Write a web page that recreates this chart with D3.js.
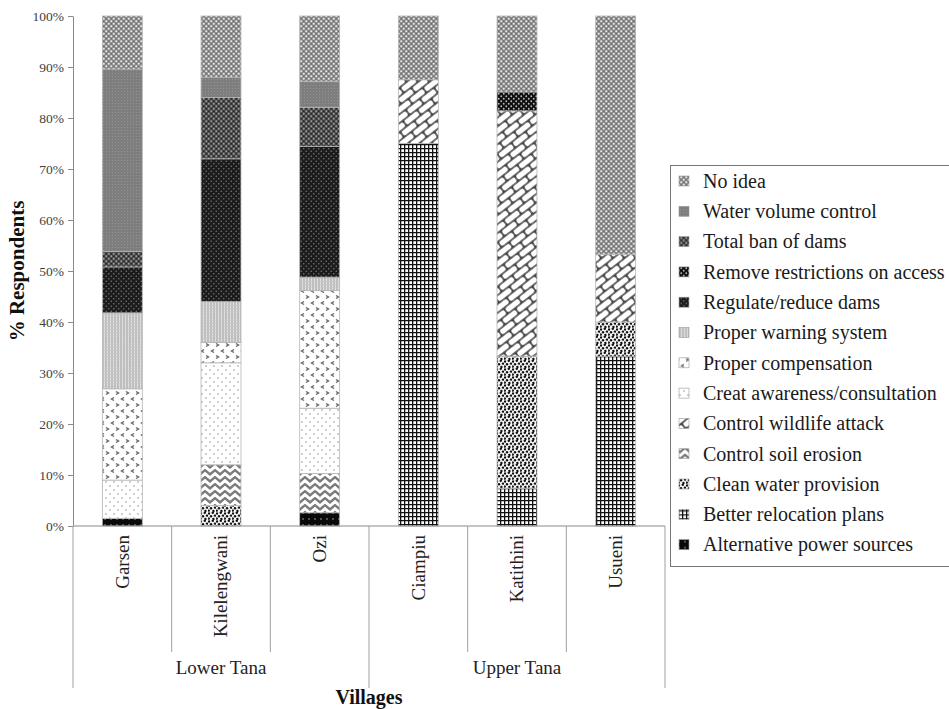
<!DOCTYPE html>
<html>
<head>
<meta charset="utf-8">
<script src="https://cdn.jsdelivr.net/npm/d3@7"></script>
<style>
  body { margin: 0; background: #fff; }
  svg { display: block; font-family: "Liberation Serif", "Times New Roman", serif; }
</style>
</head>
<body>
<div id="chart"></div>
<script>
// villages and their regions
var villages = ["Garsen", "Kilelengwani", "Ozi", "Ciampiu", "Katithini", "Usueni"];
var regions = ["Lower Tana", "Upper Tana"];

// responses, stacking order bottom -> top
var responses = ["Alternative power sources", "Better relocation plans", "Clean water provision",
  "Control soil erosion", "Control wildlife attack", "Creat awareness/consultation",
  "Proper compensation", "Proper warning system", "Regulate/reduce dams",
  "Remove restrictions on access", "Total ban of dams", "Water volume control", "No idea"];
var patternIds = ["altpower", "reloc", "cleanwater", "soil", "wildlife", "aware",
  "compens", "warning", "regulate", "remove", "totalban", "water", "noidea"];

// % respondents per village, same order as responses
var garsen       = [1.5, 0, 0, 0, 0, 7.5, 17.9, 14.9, 9.0, 0, 3.0, 35.8, 10.4];
var kilelengwani = [0, 0, 4, 8, 0, 20, 4, 8, 28, 0, 12, 4, 12];
var ozi          = [2.6, 0, 0, 7.7, 0, 12.8, 23.1, 2.6, 25.6, 0, 7.7, 5.1, 12.8];
var ciampiu      = [0, 75, 0, 0, 12.5, 0, 0, 0, 0, 0, 0, 0, 12.5];
var katithini    = [0, 7.4, 25.9, 0, 48.1, 0, 0, 0, 0, 3.7, 0, 0, 14.9];
var usueni       = [0, 33.3, 6.7, 0, 13.3, 0, 0, 0, 0, 0, 0, 0, 46.7];

var yTicks = [0, 10, 20, 30, 40, 50, 60, 70, 80, 90, 100];

var rows = [garsen, kilelengwani, ozi, ciampiu, katithini, usueni];
var table = villages.map(function(v, i) {
  var o = { village: v };
  responses.forEach(function(r, j) { o[r] = rows[i][j]; });
  return o;
});

var W = 949, H = 709;
var margin = { top: 16, left: 73, right: 284, bottom: 183 };
var plotR = W - margin.right, plotB = H - margin.bottom;

var svg = d3.select("#chart").append("svg")
  .attr("width", W).attr("height", H);

// ---------- patterns ----------
var defs = svg.append("defs");
function pat(id, w, h, bg, draw, transform) {
  var p = defs.append("pattern").attr("id", id)
    .attr("patternUnits", "userSpaceOnUse")
    .attr("width", w).attr("height", h);
  if (transform) p.attr("patternTransform", transform);
  p.append("rect").attr("width", w).attr("height", h).attr("fill", bg);
  draw(p);
}
function dots(p, pts, r, fill) {
  pts.forEach(function(d) {
    p.append("circle").attr("cx", d[0]).attr("cy", d[1]).attr("r", r).attr("fill", fill);
  });
}

pat("altpower", 6, 6, "#0a0a0a", function(p) { dots(p, [[3, 3]], 0.7, "#cfcfcf"); });
pat("reloc", 4, 4, "#ffffff", function(p) {
  p.append("path").attr("d", "M0,0.6H4M0.6,0V4").attr("stroke", "#111").attr("stroke-width", 1.4);
});
pat("cleanwater", 8, 8, "#f4f4f4", function(p) {
  dots(p, [[1, 1.5], [4.8, 0.8], [3, 4.2], [7, 3.6], [0.8, 6.6], [5.4, 7]], 1.2, "#111");
});
pat("soil", 10, 7, "#ffffff", function(p) {
  p.append("path").attr("d", "M-1,6.2 L5,1.2 L11,6.2").attr("fill", "none")
    .attr("stroke", "#7a7a7a").attr("stroke-width", 2.4);
});
// diagonal brick wall
pat("wildlife", 18, 14, "#444", function(p) {
  [[0.8, 0.8], [9.8, 7.8], [-8.2, 7.8]].forEach(function(d) {
    p.append("rect").attr("x", d[0]).attr("y", d[1]).attr("width", 16.4).attr("height", 5.4)
      .attr("rx", 2).attr("fill", "#fff");
  });
}, "rotate(-38)");
pat("aware", 8, 8, "#ffffff", function(p) { dots(p, [[2, 2], [6, 6]], 0.7, "#777"); });
pat("compens", 10, 12, "#ffffff", function(p) {
  p.append("path").attr("d", "M4,1.5 L1.5,3 L4,4.5 M6,7.5 L8.5,9 L6,10.5")
    .attr("fill", "none").attr("stroke", "#666").attr("stroke-width", 1.4);
});
pat("warning", 3, 3, "#e2e2e2", function(p) {
  p.append("path").attr("d", "M1,0V3").attr("stroke", "#9a9a9a").attr("stroke-width", 1);
  p.append("path").attr("d", "M0,2.5H3").attr("stroke", "#c4c4c4").attr("stroke-width", 0.6);
});
pat("regulate", 5, 5, "#1c1c1c", function(p) { dots(p, [[1.25, 1.25], [3.75, 3.75]], 0.75, "#7a7a7a"); });
pat("remove", 5, 5, "#0f0f0f", function(p) { dots(p, [[1.25, 1.25], [3.75, 3.75]], 0.9, "#bdbdbd"); });
pat("totalban", 5, 5, "#4a4a4a", function(p) {
  dots(p, [[1.25, 1.25], [3.75, 3.75]], 0.9, "#9c9c9c");
  dots(p, [[3.75, 1.25], [1.25, 3.75]], 0.8, "#1e1e1e");
});
pat("water", 3, 3, "#7e7e7e", function(p) { dots(p, [[1.5, 1.5]], 0.5, "#9a9a9a"); });
pat("noidea", 5, 5, "#8a8a8a", function(p) {
  dots(p, [[1.25, 1.25], [3.75, 3.75]], 1.05, "#e6e6e6");
  dots(p, [[3.75, 1.25], [1.25, 3.75]], 0.7, "#666");
});

// ---------- scales ----------
var x = d3.scaleBand().domain(villages).range([margin.left, plotR]).padding(0);
var y = d3.scaleLinear().domain([0, 100]).range([plotB, margin.top]);
var barW = x.bandwidth() * 0.405;

var stack = d3.stack().keys(responses)(table);

svg.append("g").selectAll("g")
  .data(stack).enter().append("g")
  .attr("fill", function(d, i) { return "url(#" + patternIds[i] + ")"; })
  .selectAll("rect")
  .data(function(d) { return d.filter(function(s) { return s[1] - s[0] > 0; }); })
  .enter().append("rect")
  .attr("x", function(d) { return x(d.data.village) + (x.bandwidth() - barW) / 2; })
  .attr("width", barW)
  .attr("y", function(d) { return y(d[1]); })
  .attr("height", function(d) { return y(d[0]) - y(d[1]); })
  .attr("stroke", "#b5b5b5")
  .attr("stroke-width", 0.8);

// ---------- y axis ----------
var yAxis = svg.append("g")
  .attr("transform", "translate(" + margin.left + ",0)")
  .call(d3.axisLeft(y).tickValues(yTicks).tickSize(5).tickSizeOuter(0).tickPadding(4)
    .tickFormat(function(d) { return d + "%"; }));
yAxis.attr("font-family", null);
yAxis.select(".domain").attr("stroke", "#8a8a8a");
yAxis.selectAll(".tick line").attr("stroke", "#8a8a8a");
yAxis.selectAll("text").attr("font-size", 13.5).attr("fill", "#404040");

svg.append("text")
  .attr("transform", "translate(24," + y(50) + ") rotate(-90)")
  .attr("text-anchor", "middle")
  .attr("font-size", 21).attr("font-weight", "bold").attr("fill", "#111")
  .text("% Respondents");

// ---------- x axis (multi-level) ----------
svg.append("line")
  .attr("x1", margin.left).attr("x2", plotR)
  .attr("y1", plotB).attr("y2", plotB)
  .attr("stroke", "#8a8a8a");

var bounds = d3.range(villages.length + 1).map(function(i) {
  return margin.left + i * x.bandwidth();
});
svg.append("g").selectAll("line")
  .data(bounds).enter().append("line")
  .attr("x1", function(d) { return d; }).attr("x2", function(d) { return d; })
  .attr("y1", plotB)
  .attr("y2", function(d, i) { return i % 3 === 0 ? 688 : 652; })
  .attr("stroke", "#a0a0a0");

svg.append("g").selectAll("text")
  .data(villages).enter().append("text")
  .attr("transform", function(d) {
    return "translate(" + (x(d) + x.bandwidth() / 2) + "," + (plotB + 9) + ") rotate(-90)";
  })
  .attr("text-anchor", "end")
  .attr("dy", "0.33em")
  .attr("font-size", 19).attr("fill", "#222")
  .text(function(d) { return d; });

svg.append("g").selectAll("text")
  .data(regions).enter().append("text")
  .attr("x", function(d, i) { return (bounds[i * 3] + bounds[i * 3 + 3]) / 2; })
  .attr("y", 674)
  .attr("text-anchor", "middle")
  .attr("font-size", 19).attr("fill", "#222")
  .text(function(d) { return d; });

svg.append("text")
  .attr("x", (margin.left + plotR) / 2).attr("y", 704)
  .attr("text-anchor", "middle")
  .attr("font-size", 20).attr("font-weight", "bold").attr("fill", "#111")
  .text("Villages");

// ---------- legend ----------
var lg = svg.append("g").attr("transform", "translate(670,165)");
lg.append("rect").attr("x", 0.5).attr("y", 0.5).attr("width", 290).attr("height", 401)
  .attr("fill", "#fff").attr("stroke", "#777").attr("stroke-width", 1);

var legendItems = responses.map(function(r, i) { return { name: r, id: patternIds[i] }; }).reverse();
var item = lg.selectAll("g.item").data(legendItems).enter().append("g")
  .attr("class", "item")
  .attr("transform", function(d, i) { return "translate(0," + (16 + i * 30.3) + ")"; });
item.append("rect")
  .attr("x", 9).attr("y", -5).attr("width", 10).attr("height", 10)
  .attr("fill", function(d) { return "url(#" + d.id + ")"; })
  .attr("stroke", "#999").attr("stroke-width", 0.6);
item.append("text")
  .attr("x", 33).attr("dy", "0.34em")
  .attr("font-size", 20).attr("fill", "#1a1a1a")
  .text(function(d) { return d.name; });
</script>
</body>
</html>
